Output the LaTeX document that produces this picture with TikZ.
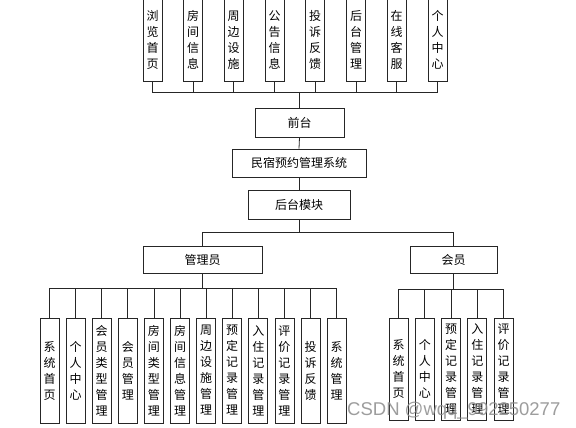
\documentclass[tikz,border=0pt]{standalone}
\usepackage{fontspec}
\newfontfamily\cjk{Noto Sans CJK SC}
\newfontfamily\wmfont{Liberation Sans}
\begin{document}
\begin{tikzpicture}[x=1pt,y=-1pt,
  box/.style={draw=black!85,line width=0.8pt,fill=white,inner sep=0pt,font=\cjk\fontsize{12}{16}\selectfont},
  vbox/.style={box,minimum width=19pt,align=center},
  link/.style={draw=black!85,line width=0.8pt}]
\useasboundingbox[fill=white] (0,0) rectangle (576,428);
% top row
\node[vbox,minimum height=82pt] (t1) at (152.5,40) {浏\\览\\首\\页};
\node[vbox,minimum height=82pt] (t2) at (193,40) {房\\间\\信\\息};
\node[vbox,minimum height=82pt] (t3) at (233.5,40) {周\\边\\设\\施};
\node[vbox,minimum height=82pt] (t4) at (274.5,40) {公\\告\\信\\息};
\node[vbox,minimum height=82pt] (t5) at (315,40) {投\\诉\\反\\馈};
\node[vbox,minimum height=82pt] (t6) at (356,40) {后\\台\\管\\理};
\node[vbox,minimum height=82pt] (t7) at (396.5,40) {在\\线\\客\\服};
\node[vbox,minimum height=82pt] (t8) at (437.5,40) {个\\人\\中\\心};
% middle
\node[box,minimum width=89pt,minimum height=29pt] (qt) at (299.5,122.5) {前台};
\node[box,minimum width=134pt,minimum height=28pt] (sys) at (299,163) {民宿预约管理系统};
\node[box,minimum width=102pt,minimum height=29pt] (ht) at (299,204.5) {后台模块};
\node[box,minimum width=119pt,minimum height=27pt] (gly) at (202.5,259.5) {管理员};
\node[box,minimum width=87pt,minimum height=27pt] (hy) at (453.5,259.5) {会员};
% admin leaves
\foreach \i/\t in {0/系\\统\\首\\页,1/个\\人\\中\\心,2/会\\员\\类\\型\\管\\理,3/会\\员\\管\\理,4/房\\间\\类\\型\\管\\理,5/房\\间\\信\\息\\管\\理,6/周\\边\\设\\施\\管\\理,7/预\\定\\记\\录\\管\\理,8/入\\住\\记\\录\\管\\理,9/评\\价\\记\\录\\管\\理,10/投\\诉\\反\\馈,11/系\\统\\管\\理}{
  \node[vbox,minimum height=105pt] (a\i) at ({49.5+26.1*\i},370.5) {\t};
}
% member leaves
\foreach \i/\t in {0/系\\统\\首\\页,1/个\\人\\中\\心,2/预\\定\\记\\录\\管\\理,3/入\\住\\记\\录\\管\\理,4/评\\价\\记\\录\\管\\理}{
  \node[vbox,minimum height=102pt] (m\i) at ({398.5+26.25*\i},369) {\t};
}
% connectors
\coordinate (b1) at (299.5,92);
\foreach \i in {1,...,8}{\draw[link] (t\i.south) |- (b1);}
\draw[link] (b1) -- (qt.north);
\draw[link] (qt.south) -- (sys.north);
\draw[link] (sys.south) -- (ht.north);
\coordinate (b2) at (299,232);
\draw[link] (ht.south) -- (b2);
\draw[link] (gly.north) |- (b2);
\draw[link] (hy.north) |- (b2);
\coordinate (b3) at (202.5,288);
\draw[link] (gly.south) -- (b3);
\foreach \i in {0,...,11}{\draw[link] (a\i.north) |- (b3);}
\coordinate (b4) at (453.5,289);
\draw[link] (hy.south) -- (b4);
\foreach \i in {0,...,4}{\draw[link] (m\i.north) |- (b4);}
% watermark
\node[anchor=base west,inner sep=0pt,font=\wmfont\fontsize{18.5}{20}\selectfont,text=black!45,opacity=0.85] (wmk) at (347,415) {CSDN @wqq\_992250277};
\end{tikzpicture}
\end{document}
